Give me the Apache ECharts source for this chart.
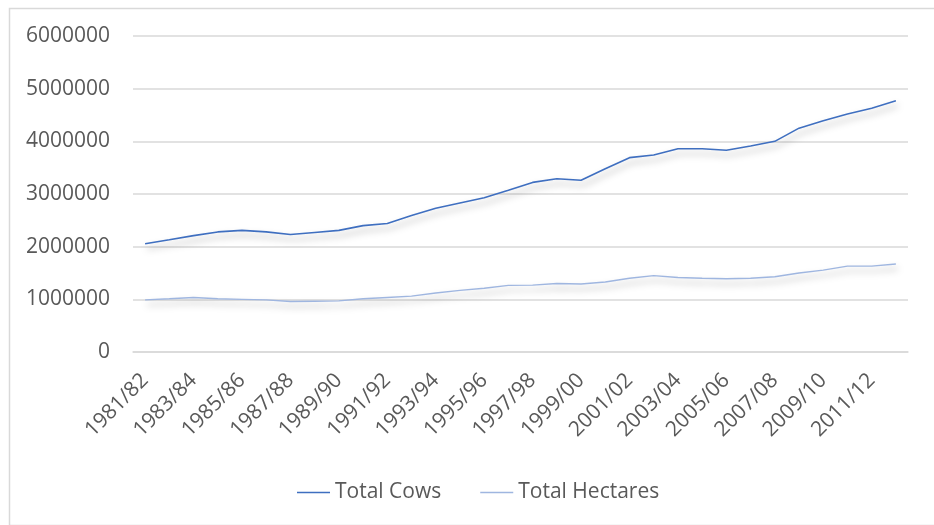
<!DOCTYPE html>
<html>
<head>
<meta charset="utf-8">
<script src="https://cdn.jsdelivr.net/npm/echarts@6/dist/echarts.min.js"></script>
<style>
html,body{margin:0;padding:0;background:#fff;}
#chart{width:934px;height:525px;}
</style>
</head>
<body>
<div id="chart"></div>
<script>
const categories = ["1981/82","1982/83","1983/84","1984/85","1985/86","1986/87","1987/88","1988/89","1989/90","1990/91","1991/92","1992/93","1993/94","1994/95","1995/96","1996/97","1997/98","1998/99","1999/00","2000/01","2001/02","2002/03","2003/04","2004/05","2005/06","2006/07","2007/08","2008/09","2009/10","2010/11","2011/12","2012/13"];
const totalCows = [2055000,2130000,2210000,2280000,2310000,2280000,2230000,2270000,2310000,2400000,2440000,2590000,2730000,2830000,2930000,3070000,3220000,3290000,3260000,3480000,3690000,3740000,3860000,3860000,3830000,3910000,4000000,4250000,4390000,4520000,4630000,4770000];
const totalHectares = [990000,1010000,1035000,1010000,1000000,990000,960000,965000,970000,1010000,1035000,1060000,1120000,1170000,1210000,1265000,1270000,1300000,1290000,1330000,1400000,1450000,1415000,1400000,1390000,1400000,1430000,1500000,1555000,1630000,1630000,1670000];
const yTicks = {min: 0, max: 6000000, interval: 1000000};

const FONT = '"Open Sans", sans-serif';
const TXT = '#595959';
const COW = '#3f6fc0';
const HA = '#9fb6e0';
const chart = echarts.init(document.getElementById('chart'), null, {renderer: 'canvas'});
const shadow = {shadowColor: 'rgba(0,0,0,0.35)', shadowBlur: 7, shadowOffsetX: 2, shadowOffsetY: 5};
chart.setOption({
  animation: false,
  backgroundColor: '#fff',
  graphic: [{
    type: 'rect', left: 7, top: 6, shape: {x: 0, y: 0, width: 940, height: 517},
    style: {fill: 'none', stroke: '#d9d9d9', lineWidth: 1.5}, silent: true
  }],
  grid: {left: 133, top: 36, width: 775, height: 316, containLabel: false},
  legend: {
    left: 292, top: 477,
    icon: 'rect',
    itemWidth: 33, itemHeight: 1.6, itemGap: 39,
    textStyle: {fontFamily: FONT, fontSize: 21, color: TXT},
    data: [{name: 'Total Cows', itemStyle: {color: COW}}, {name: 'Total Hectares', itemStyle: {color: HA}}]
  },
  xAxis: {
    type: 'category', data: categories, boundaryGap: true,
    axisLine: {lineStyle: {color: '#d9d9d9', width: 1.5}},
    axisTick: {show: false},
    axisLabel: {interval: 1, rotate: 45, margin: 25, fontFamily: FONT, fontSize: 21, color: TXT}
  },
  yAxis: {
    type: 'value', min: yTicks.min, max: yTicks.max, interval: yTicks.interval,
    axisLine: {show: false}, axisTick: {show: false},
    splitLine: {lineStyle: {color: '#d9d9d9', width: 1.5}},
    axisLabel: {margin: 23, fontFamily: FONT, fontSize: 21, color: TXT, formatter: v => String(v)}
  },
  series: [
    {name: 'Total Cows', type: 'line', data: totalCows, symbol: 'none', showSymbol: false,
     itemStyle: {color: COW},
     lineStyle: Object.assign({color: COW, width: 1.6}, shadow)},
    {name: 'Total Hectares', type: 'line', data: totalHectares, symbol: 'none', showSymbol: false,
     itemStyle: {color: HA},
     lineStyle: Object.assign({color: HA, width: 1.4}, shadow)}
  ]
});
</script>
</body>
</html>
